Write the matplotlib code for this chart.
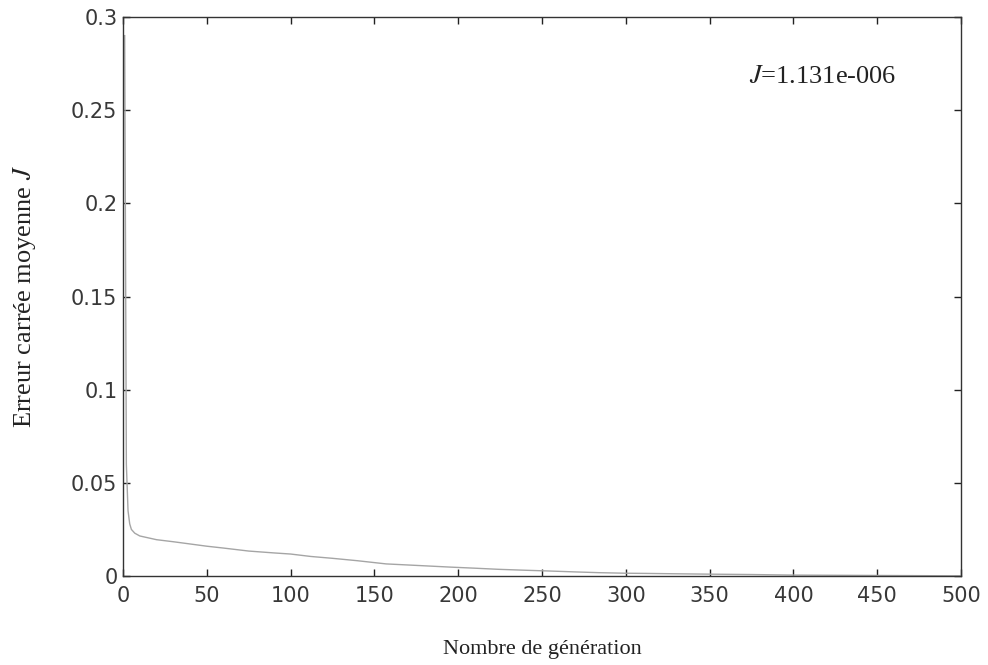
import matplotlib
matplotlib.use("Agg")
import matplotlib.pyplot as plt

# Data
generations = [1, 2, 3, 4, 5, 7, 10, 15, 20, 30, 40, 50, 60, 75, 90, 100, 112,
               125, 140, 157, 175, 195, 210, 224, 240, 254, 270, 284, 300, 312,
               330, 350, 375, 400, 425, 450, 475, 500]
erreur = [0.29, 0.06, 0.035, 0.028, 0.025, 0.023, 0.0215, 0.0205, 0.0195,
          0.0184, 0.0172, 0.016, 0.015, 0.0134, 0.0124, 0.0118, 0.0105,
          0.0095, 0.0082, 0.0065, 0.0057, 0.0048, 0.0042, 0.0036, 0.0031,
          0.0027, 0.0022, 0.0018, 0.0015, 0.0014, 0.0012, 0.0010, 0.0008,
          0.0005, 0.0004, 0.0003, 0.0002, 0.0001]
x_ticks = [0, 50, 100, 150, 200, 250, 300, 350, 400, 450, 500]
y_ticks = [0, 0.05, 0.1, 0.15, 0.2, 0.25, 0.3]
y_tick_labels = ["0", "0.05", "0.1", "0.15", "0.2", "0.25", "0.3"]
annotation = r"$J$=1.131e-006"

plt.rcParams["mathtext.fontset"] = "stix"

fig = plt.figure(figsize=(9.88, 6.65), dpi=100)
ax = fig.add_axes([0.1245, 0.1338, 0.8482, 0.8406])

ax.plot(generations, erreur, color="#a5a5a5", linewidth=1.0)

ax.set_xlim(0, 500)
ax.set_ylim(0, 0.3)
ax.set_xticks(x_ticks)
ax.set_xticklabels([str(t) for t in x_ticks])
ax.set_yticks(y_ticks)
ax.set_yticklabels(y_tick_labels)

ax.tick_params(direction="in", length=5, width=1, top=True, right=True,
               labelsize=15, colors="#222222")
ax.tick_params(axis="x", pad=7)
ax.tick_params(axis="y", pad=4)
for lab in ax.get_xticklabels() + ax.get_yticklabels():
    lab.set_family("DejaVu Sans")
    lab.set_color("#383838")

for sp in ax.spines.values():
    sp.set_color("#333333")
    sp.set_linewidth(1.0)

ax.set_xlabel("Nombre de génération", family="Liberation Serif",
              fontsize=16, color="#222222", labelpad=25)
ax.set_ylabel("Erreur carrée moyenne $J$", family="Liberation Serif",
              fontsize=19, color="#222222", labelpad=24)

ax.text(373.5, 0.268, annotation, family="Liberation Serif", fontsize=19,
        color="#222222", ha="left", va="center")

fig.savefig("out.png", dpi=100)
